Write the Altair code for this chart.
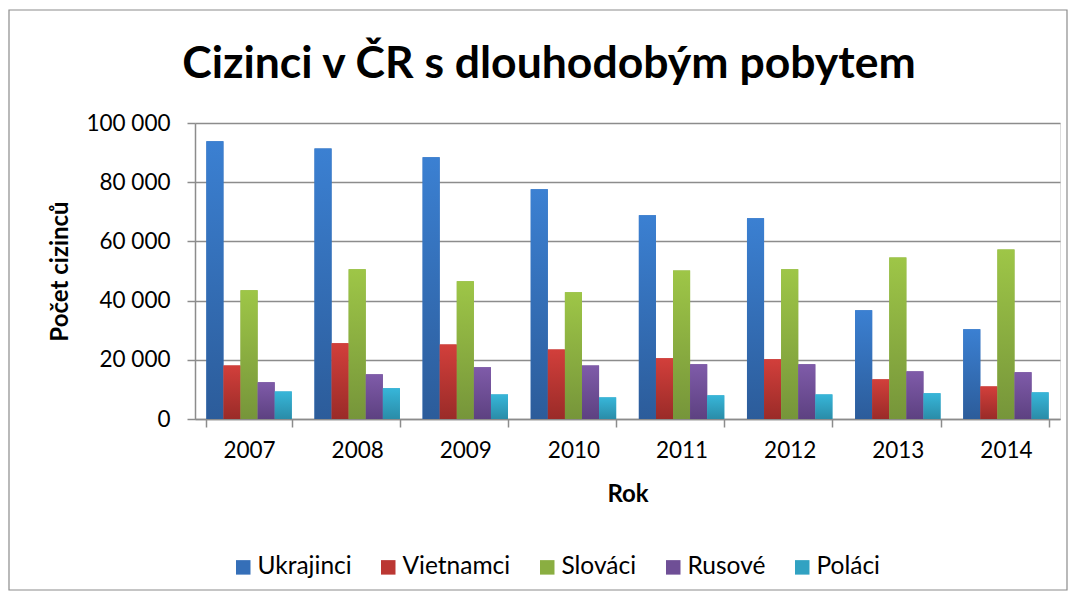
import altair as alt
import pandas as pd

years = ["2007", "2008", "2009", "2010", "2011", "2012", "2013", "2014"]
series = ["Ukrajinci", "Vietnamci", "Slováci", "Rusové", "Poláci"]
ukrajinci = [93800, 91400, 88400, 77600, 68800, 67800, 36700, 30300]
vietnamci = [18100, 25600, 25200, 23500, 20500, 20200, 13400, 11000]
slovaci = [43500, 50600, 46500, 42800, 50200, 50600, 54600, 57300]
rusove = [12400, 15100, 17500, 18100, 18500, 18500, 16100, 15800]
polaci = [9300, 10400, 8300, 7300, 8000, 8300, 8700, 9000]
y_ticks = [0, 20000, 40000, 60000, 80000, 100000]
chart_title = ["Cizinci v ČR s dlouhodobým pobytem"]

top_colors = ["#3b80d2", "#d23f3b", "#9ec647", "#7f5ba9", "#37b6d9"]
bottom_colors = ["#2c5c9a", "#9a2b28", "#76953a", "#5d4181", "#2a8ca8"]
mid_colors = ["#356fb8", "#bb3733", "#8aae41", "#6f4f96", "#31a2c2"]

values = [ukrajinci, vietnamci, slovaci, rusove, polaci]
rows = []
for s, vals in zip(series, values):
    for yr, v in zip(years, vals):
        rows.append({"rok": yr, "skupina": s, "pocet": v})
df = pd.DataFrame(rows)

FONT = "Lato"
W, H = 865, 296

x_enc = alt.X(
    "rok:N",
    sort=years,
    scale=alt.Scale(paddingInner=0.21, paddingOuter=0.105),
    axis=alt.Axis(
        title="Rok", labelAngle=0, tickBand="extent", tickSize=8,
        domainColor="#8c8c8c", tickColor="#8c8c8c", domainWidth=1.5, tickWidth=1.5,
        labelFont=FONT, labelFontSize=22.5, labelColor="#000000", labelPadding=12,
        titleFont=FONT, titleFontSize=24, titleFontWeight="bold", titleColor="#000000",
        titleX=W / 2, titleY=75, titleAlign="center", titleBaseline="middle",
        grid=False,
    ),
)
xo_enc = alt.XOffset("skupina:N", scale=alt.Scale(domain=series, paddingInner=0, paddingOuter=0))
y_enc = alt.Y(
    "pocet:Q",
    scale=alt.Scale(domain=[0, 100000], nice=False),
    axis=alt.Axis(
        values=y_ticks,
        labelExpr="replace(format(datum.value, ','), regexp(',', 'g'), ' ')",
        title="Počet cizinců", tickSize=8, labelPadding=17,
        domainColor="#8c8c8c", tickColor="#8c8c8c", domainWidth=1.5, tickWidth=1.5,
        gridColor="#8c8c8c", gridWidth=1.5,
        labelFont=FONT, labelFontSize=22.5, labelColor="#000000",
        titleFont=FONT, titleFontSize=24, titleFontWeight="bold", titleColor="#000000",
        titleX=-135, titleY=H / 2, titleAlign="center", titleBaseline="middle", titleAngle=270,
    ),
)

base_bars = alt.Chart(df).mark_bar().encode(
    x=x_enc,
    xOffset=xo_enc,
    y=y_enc,
    color=alt.Color(
        "skupina:N",
        scale=alt.Scale(domain=series, range=mid_colors),
        legend=alt.Legend(
            title=None, orient="none", direction="horizontal",
            legendX=36, legendY=432, symbolType="square", symbolSize=210,
            symbolStrokeWidth=0, labelFont=FONT, labelFontSize=24.5, labelColor="#000000",
            labelOffset=2, columnPadding=24, padding=0,
        ),
    ),
)

layers = [base_bars]
for s, top, bot in zip(series, top_colors, bottom_colors):
    grad = alt.Gradient(
        gradient="linear",
        stops=[alt.GradientStop(color=top, offset=0), alt.GradientStop(color=bot, offset=1)],
        x1=0, x2=0, y1=0, y2=1,
    )
    layers.append(
        alt.Chart(df).transform_filter(alt.datum.skupina == s).mark_bar(color=grad).encode(
            x=x_enc, xOffset=xo_enc, y=y_enc
        )
    )

border = alt.Chart(pd.DataFrame({"a": [0]})).mark_rect(
    fill="transparent", stroke="#8c8c8c", strokeWidth=1.2
).encode(
    x=alt.value(-186), x2=alt.value(872), y=alt.value(-113), y2=alt.value(467)
)

title_mark = alt.Chart(pd.DataFrame({"t": chart_title})).mark_text(
    font=FONT, fontSize=44.5, fontWeight="bold", color="#000000",
    align="center", baseline="alphabetic",
).encode(text="t:N", x=alt.value(354), y=alt.value(-45))

chart = alt.layer(border, title_mark, *layers).properties(
    width=W, height=H,
    padding={"left": 0, "top": 1, "right": 0, "bottom": 0},
).configure_view(stroke=None).configure(background="white")

chart.save("out.html", embed_options={"renderer": "svg", "actions": False})
